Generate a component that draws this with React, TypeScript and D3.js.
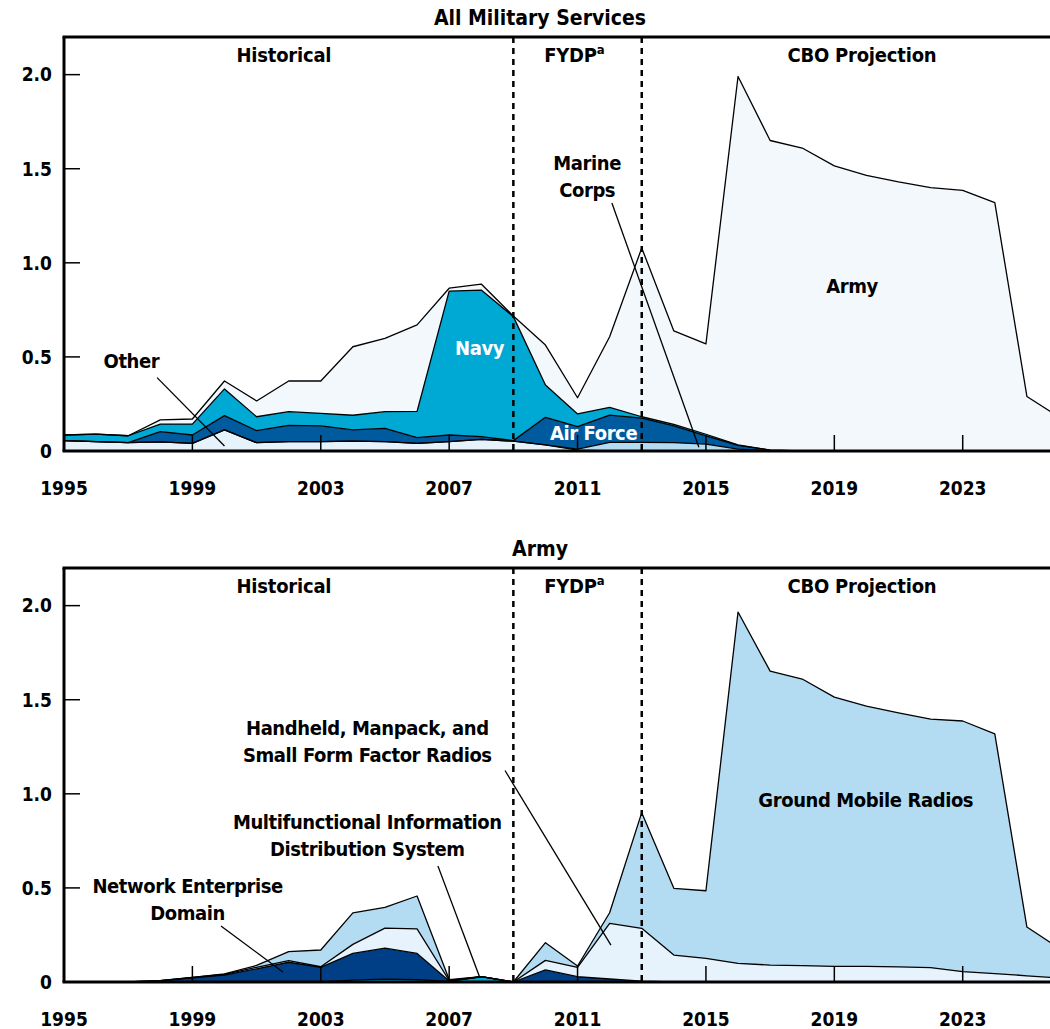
import * as d3 from "d3"

// years on the x axis
const years = [
  1995, 1996, 1997, 1998, 1999, 2000, 2001, 2002, 2003, 2004, 2005, 2006, 2007, 2008, 2009, 2010,
  2011, 2012, 2013, 2014, 2015, 2016, 2017, 2018, 2019, 2020, 2021, 2022, 2023, 2024, 2025, 2026,
]
const yearTicks = [1995, 1999, 2003, 2007, 2011, 2015, 2019, 2023]
const valueTicks = [0, 0.5, 1.0, 1.5, 2.0]
const phaseBreaks = [2009, 2013]

// All Military Services (stack order bottom -> top)
const other = [0.055, 0.05, 0.044, 0.048, 0.041, 0.112, 0.044, 0.05, 0.05, 0.052, 0.05, 0.041, 0.05, 0.062, 0.052, 0.032, 0.005, 0, 0, 0, 0, 0, 0, 0, 0, 0, 0, 0, 0, 0, 0, 0]
const marineCorps = [0, 0, 0, 0, 0, 0, 0, 0, 0, 0, 0, 0, 0, 0, 0, 0, 0.005, 0.046, 0.046, 0.044, 0.037, 0.01, 0, 0, 0, 0, 0, 0, 0, 0, 0, 0]
const airForce = [0, 0, 0, 0.055, 0.044, 0.076, 0.064, 0.086, 0.083, 0.06, 0.07, 0.03, 0.035, 0.014, 0.003, 0.147, 0.119, 0.145, 0.129, 0.089, 0.043, 0.02, 0.005, 0, 0, 0, 0, 0, 0, 0, 0, 0]
const navy = [0.03, 0.04, 0.037, 0.04, 0.058, 0.142, 0.074, 0.073, 0.067, 0.078, 0.089, 0.14, 0.765, 0.779, 0.659, 0.172, 0.068, 0.041, 0.007, 0.009, 0.009, 0.003, 0, 0, 0, 0, 0, 0, 0, 0, 0, 0]
const army = [0, 0, 0, 0.022, 0.027, 0.042, 0.084, 0.163, 0.172, 0.364, 0.39, 0.459, 0.015, 0.032, 0.003, 0.212, 0.086, 0.375, 0.897, 0.496, 0.48, 1.957, 1.645, 1.61, 1.515, 1.465, 1.43, 1.4, 1.385, 1.32, 0.29, 0.18]

// Army (stack order bottom -> top)
const mids = [0, 0, 0, 0, 0, 0, 0, 0, 0, 0.01, 0.015, 0.012, 0.003, 0.028, 0, 0, 0, 0, 0, 0, 0, 0, 0, 0, 0, 0, 0, 0, 0, 0, 0, 0]
const ned = [0, 0, 0, 0.007, 0.022, 0.037, 0.07, 0.105, 0.078, 0.142, 0.165, 0.14, 0.002, 0, 0, 0.064, 0.028, 0.016, 0.005, 0, 0, 0, 0, 0, 0, 0, 0, 0, 0, 0, 0, 0]
const handheld = [0, 0, 0, 0, 0.002, 0.003, 0.008, 0.008, 0.003, 0.048, 0.106, 0.13, 0.003, 0, 0, 0.051, 0.05, 0.296, 0.28, 0.143, 0.126, 0.099, 0.09, 0.087, 0.083, 0.083, 0.08, 0.076, 0.055, 0.045, 0.033, 0.022]
const groundMobile = [0, 0, 0, 0, 0, 0.003, 0.01, 0.048, 0.089, 0.167, 0.11, 0.175, 0.005, 0, 0, 0.094, 0.007, 0.056, 0.615, 0.355, 0.359, 1.867, 1.562, 1.523, 1.431, 1.383, 1.35, 1.321, 1.332, 1.273, 0.259, 0.158]

type Series = { key: string; values: number[]; color: string }
type Note = { lines: string[]; x: number; y: number; color?: string; leader?: [number, number, number, number] }

const servicesSeries: Series[] = [
  { key: "Other", values: other, color: "#e7f3fc" },
  { key: "Marine Corps", values: marineCorps, color: "#b3dcf3" },
  { key: "Air Force", values: airForce, color: "#005a9e" },
  { key: "Navy", values: navy, color: "#00a8d4" },
  { key: "Army", values: army, color: "#f3f8fd" },
]

const armySeries: Series[] = [
  { key: "MIDS", values: mids, color: "#00a8d4" },
  { key: "NED", values: ned, color: "#003f86" },
  { key: "Handheld", values: handheld, color: "#e7f3fc" },
  { key: "Ground Mobile", values: groundMobile, color: "#b3dcf3" },
]

// annotations in data units: [year, value]
const servicesNotes: Note[] = [
  { lines: ["Other"], x: 1997.1, y: 0.48, leader: [1997.9, 0.39, 2000.0, 0.027] },
  { lines: ["Navy"], x: 2007.95, y: 0.55, color: "#fff" },
  { lines: ["Air Force"], x: 2011.5, y: 0.097, color: "#fff" },
  { lines: ["Marine", "Corps"], x: 2011.3, y: 1.53, leader: [2012.07, 1.318, 2014.78, 0.02] },
  { lines: ["Army"], x: 2019.55, y: 0.88 },
]

const armyNotes: Note[] = [
  { lines: ["Handheld, Manpack, and", "Small Form Factor Radios"], x: 2004.45, y: 1.35, leader: [2008.74, 1.124, 2012.04, 0.196] },
  { lines: ["Multifunctional Information", "Distribution System"], x: 2004.45, y: 0.85, leader: [2006.65, 0.616, 2007.96, 0.021] },
  { lines: ["Network Enterprise", "Domain"], x: 1998.85, y: 0.51, leader: [1999.89, 0.298, 2001.82, 0.053] },
  { lines: ["Ground Mobile Radios"], x: 2019.98, y: 0.97 },
]

const phases = [
  { label: "Historical", x: 2001.85 },
  { label: "FYDP", x: 2010.9, sup: "a" },
  { label: "CBO Projection", x: 2019.86 },
]

const FONT = "'Liberation Sans Narrow', 'DejaVu Sans Condensed', 'Roboto', sans-serif"
const W = 1050
const H = 1029

const x = d3.scaleLinear().domain([1995, 2026]).range([64, 1059])

function Panel({ title, top, series, notes }: { title: string; top: number; series: Series[]; notes: Note[] }) {
  const y = d3.scaleLinear().domain([0, 2.2]).range([top + 414, top])
  const rows = years.map((yr, i) => {
    const r: Record<string, number> = { year: yr }
    series.forEach((s) => (r[s.key] = s.values[i]))
    return r
  })
  const stacked = d3.stack<Record<string, number>>().keys(series.map((s) => s.key))(rows)
  const area = d3
    .area<d3.SeriesPoint<Record<string, number>>>()
    .x((d) => x(d.data.year))
    .y0((d) => y(d[0]))
    .y1((d) => y(d[1]))
  const line = d3
    .line<d3.SeriesPoint<Record<string, number>>>()
    .x((d) => x(d.data.year))
    .y((d) => y(d[1]))
  const base = y(0)
  const lh = 27

  return (
    <g fontFamily={FONT} fontWeight="bold">
      <text x={540} y={top - 12} textAnchor="middle" fontSize={21}>
        {title}
      </text>
      {stacked.map((layer, i) => (
        <path key={layer.key} d={area(layer) || ""} fill={series[i].color} />
      ))}
      {stacked.map((layer) => (
        <path key={layer.key + "-l"} d={line(layer) || ""} fill="none" stroke="#000" strokeWidth={1.3} strokeLinejoin="round" />
      ))}
      {/* ticks */}
      {yearTicks.slice(1).map((t) => (
        <line key={t} x1={x(t)} x2={x(t)} y1={base} y2={base - 16} stroke="#000" strokeWidth={1.5} />
      ))}
      {valueTicks.slice(1).map((t) => (
        <line key={t} x1={x(1995)} x2={x(1995) + 16} y1={y(t)} y2={y(t)} stroke="#000" strokeWidth={1.5} />
      ))}
      {/* phase separators */}
      {phaseBreaks.map((b) => (
        <line key={b} x1={x(b)} x2={x(b)} y1={top} y2={base} stroke="#000" strokeWidth={2.5} strokeDasharray="6 5" />
      ))}
      {/* frame */}
      <line x1={x(1995) - 1.5} x2={W} y1={top} y2={top} stroke="#000" strokeWidth={3} />
      <line x1={x(1995)} x2={x(1995)} y1={top} y2={base} stroke="#000" strokeWidth={3} />
      <line x1={x(1995) - 1.5} x2={W} y1={base} y2={base} stroke="#000" strokeWidth={3} />
      {/* tick labels */}
      {valueTicks.map((t) => (
        <text key={t} x={52} y={y(t)} dy="0.36em" textAnchor="end" fontSize={19}>
          {t === 0 ? "0" : t.toFixed(1)}
        </text>
      ))}
      {yearTicks.map((t) => (
        <text key={t} x={x(t)} y={base + 44} textAnchor="middle" fontSize={19}>
          {t}
        </text>
      ))}
      {/* phase labels */}
      {phases.map((p) => (
        <text key={p.label} x={x(p.x)} y={top + 25} textAnchor="middle" fontSize={20} letterSpacing={-0.2}>
          {p.label}
          {p.sup && (
            <tspan dy={-8} fontSize={13}>
              {p.sup}
            </tspan>
          )}
        </text>
      ))}
      {/* annotations */}
      {notes.map((n) => (
        <g key={n.lines[0]}>
          {n.leader && (
            <line x1={x(n.leader[0])} y1={y(n.leader[1])} x2={x(n.leader[2])} y2={y(n.leader[3])} stroke="#000" strokeWidth={1.3} />
          )}
          {n.lines.map((l, i) => (
            <text key={l} x={x(n.x)} y={y(n.y) + i * lh} dy="0.36em" textAnchor="middle" fontSize={20} letterSpacing={-0.4} fill={n.color || "#000"}>
              {l}
            </text>
          ))}
        </g>
      ))}
    </g>
  )
}

export default function App() {
  return (
    <svg width={W} height={H} style={{ position: "absolute", left: 0, top: 0, background: "#fff" }}>
      <rect width={W} height={H} fill="#fff" />
      <Panel title="All Military Services" top={37} series={servicesSeries} notes={servicesNotes} />
      <Panel title="Army" top={568} series={armySeries} notes={armyNotes} />
    </svg>
  )
}
